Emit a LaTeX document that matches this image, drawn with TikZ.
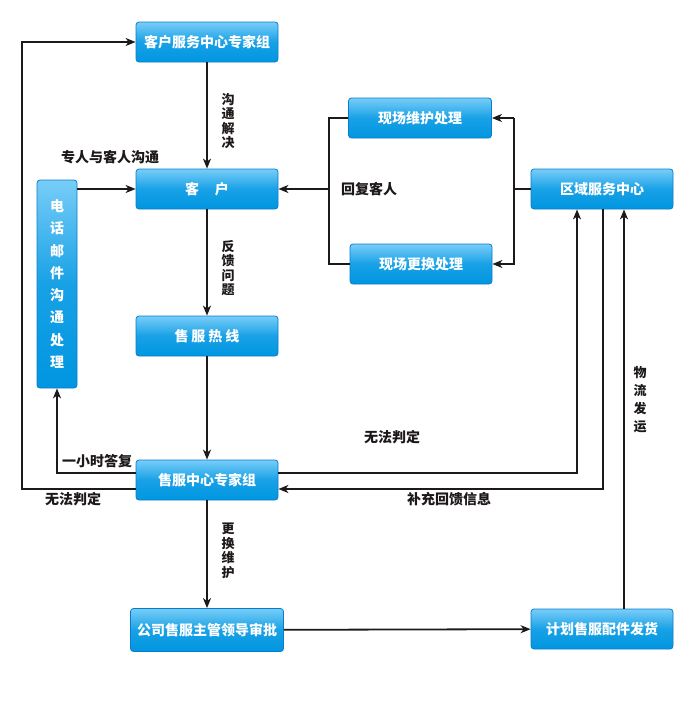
\documentclass[tikz,border=0pt]{standalone}
\usepackage{fontspec}
\newfontfamily\cjk{Noto Sans CJK SC}
\usetikzlibrary{arrows.meta,calc}
\definecolor{boxtop}{RGB}{120,205,248}
\definecolor{boxbot}{RGB}{0,150,225}
\definecolor{boxedge}{RGB}{10,125,200}
\definecolor{linec}{RGB}{30,25,25}
\tikzset{
  box/.style={rectangle, rounded corners=3pt, draw=boxedge, line width=0.8pt,
    top color=boxtop, bottom color=boxbot, middle color=boxbot!80!boxtop,
    text=white, font=\cjk\bfseries\fontsize{14}{16}\selectfont,
    minimum width=142pt, minimum height=40pt, inner sep=0pt},
  lbl/.style={text=linec, font=\cjk\bfseries\fontsize{14}{16}\selectfont, inner sep=0pt},
  vlbl/.style={lbl, align=center, font=\cjk\bfseries\fontsize{13}{14.5}\selectfont},
  conn/.style={draw=linec, line width=1.8pt},
  arr/.style={conn, -{Stealth[length=10pt,width=8pt,inset=3pt]}},
}
\begin{document}
\begin{tikzpicture}[x=1pt,y=-1pt]
\useasboundingbox (0,0) rectangle (700,704);
% boxes
\node[box] (expert) at (207,42) {客户服务中心专家组};
\node[box] (cust) at (207,189) {客\hspace{16pt}户};
\node[box] (hot) at (207,336) {售\hspace{3pt}服\hspace{3pt}热\hspace{3pt}线};
\node[box, minimum width=40pt, minimum height=208pt, align=center,
  font=\cjk\bfseries\fontsize{14}{22.3}\selectfont] (mail) at (57,284) {电\\话\\邮\\件\\沟\\通\\处\\理};
\node[box] (center) at (207,480) {售服中心专家组};
\node[box, minimum width=153pt, minimum height=43pt] (boss) at (207,630) {公司售服主管领导审批};
\node[box] (parts) at (602,629) {计划售服配件发货};
\node[box, minimum width=143pt] (maint) at (420,118) {现场维护处理};
\node[box] (repl) at (421,264) {现场更换处理};
\node[box] (region) at (602,189) {区域服务中心};
% coordinates
\coordinate (ol1) at (22,489);
\coordinate (ol2) at (22,42);
\coordinate (hr1) at (57,473);
\coordinate (lb1) at (329,118);
\coordinate (lb2) at (329,264);
\coordinate (lbm) at (329,189);
\coordinate (rb1) at (514,118);
\coordinate (rb2) at (514,264);
\coordinate (rbm) at (514,189);
\coordinate (nr1) at (577,473);
\coordinate (sr1) at (603,489);
% connectors
\draw[arr] (center.west|-ol1) -- (ol1) -- (ol2) -- (expert.west);
\draw[arr] (center.west|-hr1) -- (hr1) -- (mail.south);
\draw[arr] (mail.east|-cust) -- (cust.west);
\draw[arr] (expert) -- (cust);
\draw[arr] (cust) -- (hot);
\draw[arr] (hot) -- (center);
\draw[arr] (center) -- (boss);
\draw[arr] (boss) -- (parts);
\draw[arr] (parts.north-|sr1) ++(21,0) coordinate (pt) -- (pt|-region.south);
\draw[arr] (center.east|-nr1) -- (nr1) -- (nr1|-region.south);
\draw[arr] (sr1|-region.south) -- (sr1) -- (center.east|-sr1);
\draw[conn] (region.west) -- (rbm);
\draw[arr] (rb1) -- (rb2) -- (repl.east);
\draw[arr] (rb1) -- (maint.east);
\draw[conn] (maint.west) -- (lb1) -- (lb2) -- (repl.west);
\draw[arr] (lbm) -- (cust.east);
% labels
\node[vlbl] (l1) at (228,121) {沟\\通\\解\\决};
\node[vlbl] (l2) at (228,268) {反\\馈\\问\\题};
\node[vlbl] (l3) at (228,551) {更\\换\\维\\护};
\node[vlbl, font=\cjk\bfseries\fontsize{13}{18}\selectfont] (l4) at (640,400) {物\\流\\发\\运};
\node[lbl] (l5) at (110,157) {专人与客人沟通};
\node[lbl] (l6) at (369,189) {回复客人};
\node[lbl] (l7) at (97,461) {一小时答复};
\node[lbl] (l8) at (73,499) {无法判定};
\node[lbl] (l9) at (392,437) {无法判定};
\node[lbl] (l10) at (449,499) {补充回馈信息};
\end{tikzpicture}
\end{document}
